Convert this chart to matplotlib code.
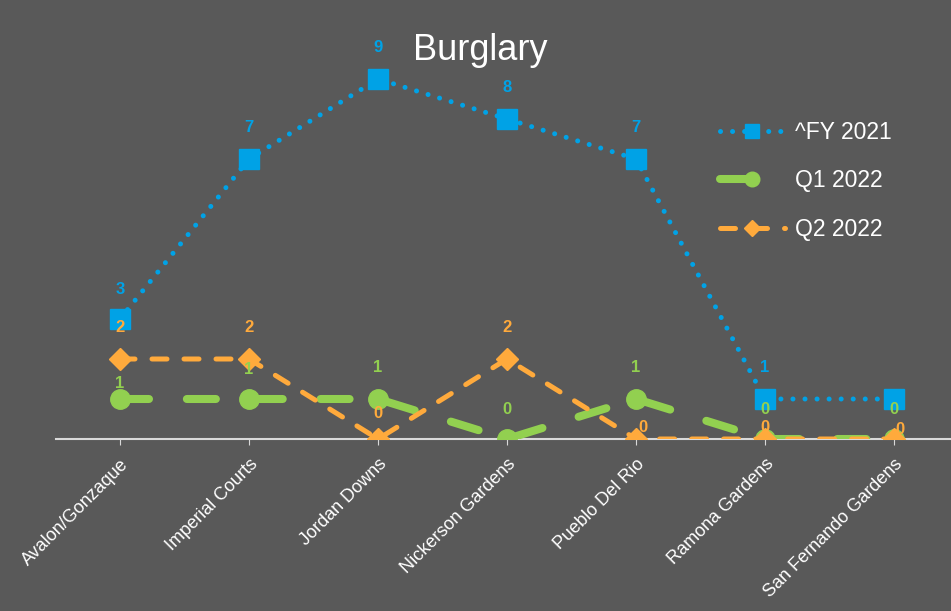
import numpy as np
import matplotlib
matplotlib.use('Agg')
from matplotlib import pyplot as plt

plt.rcParams['font.family'] = ['Liberation Sans', 'DejaVu Sans']

sites = ['Avalon/Gonzaque', 'Imperial Courts', 'Jordan Downs', 'Nickerson Gardens',
         'Pueblo Del Rio', 'Ramona Gardens', 'San Fernando Gardens']
fy2021 = [3, 7, 9, 8, 7, 1, 1]
q1_2022 = [1, 1, 1, 0, 1, 0, 0]
q2_2022 = [2, 2, 0, 2, 0, 0, 0]

bg = '#595959'
blue = '#00A2E6'
green = '#92D050'
orange = '#FFAA3C'

fig = plt.figure(figsize=(9.51, 6.11), dpi=100, facecolor=bg)
ax = fig.add_axes([55.5 / 951, 1 - 439 / 611, 903 / 951, 400 / 611])
ax.set_facecolor(bg)
x = np.arange(len(sites))

ax.plot(x, fy2021, color=blue, lw=3.6, linestyle=(0, (0.01, 2.4)),
        dash_capstyle='round', marker='s', ms=14, label='^FY 2021', zorder=3)
ax.plot(x, q1_2022, color=green, lw=5.8, linestyle=(0, (3.6, 4.7)),
        dash_capstyle='round', marker='o', ms=14, label='Q1 2022', zorder=4)
ax.plot(x, q2_2022, color=orange, lw=3.6, linestyle=(0, (3, 3.4)),
        dash_capstyle='round', marker='D', ms=11, label='Q2 2022', zorder=5)

# data labels (offsets in pixels, roughly where excel put them)
blue_dy = [30, 31, 32, 32, 31, 31, None]   # last one not shown
green_dy = [15, 29, 31, 30, 31, 29, 29]
orange_dy = [32, 32, 26, 32, 12, 12, 9]
orange_dx = [0, 0, 0, 0, 7, 0, 6]

def label(xi, v, dx, dy, col):
    ax.annotate(str(v), (xi, v), xytext=(dx, dy), textcoords='offset pixels',
                ha='center', va='center', color=col, fontsize=12,
                fontweight='bold', zorder=6)

for i in range(len(sites)):
    if blue_dy[i] is not None:
        label(x[i], fy2021[i], 0, blue_dy[i], blue)
    label(x[i], q1_2022[i], 0, green_dy[i], green)
    label(x[i], q2_2022[i], orange_dx[i], orange_dy[i], orange)

ax.set_xlim(-0.5, 6.5)
ax.set_ylim(0, 10)
for s in ['top', 'right', 'left']:
    ax.spines[s].set_visible(False)
ax.spines['bottom'].set_color('#D9D9D9')
ax.spines['bottom'].set_linewidth(1.5)
ax.set_yticks([])
ax.set_xticks(x)
ax.set_xticklabels(sites, rotation=45, ha='right', rotation_mode='anchor',
                   color='white', fontsize=13)
ax.tick_params(axis='x', colors='#D9D9D9', length=4, pad=8, labelcolor='white')

fig.text(480 / 951, 1 - 50 / 611, 'Burglary', ha='center', va='center',
         color='white', fontsize=26)

leg = fig.legend(loc='center left', bbox_to_anchor=(699 / 951, 1 - 181 / 611),
                 frameon=False, fontsize=16.5, handlelength=2.85, markerscale=0.75,
                 labelspacing=1.1, handletextpad=0.45)
for t in leg.get_texts():
    t.set_color('white')

fig.savefig('out.png', dpi=100, facecolor=bg)
